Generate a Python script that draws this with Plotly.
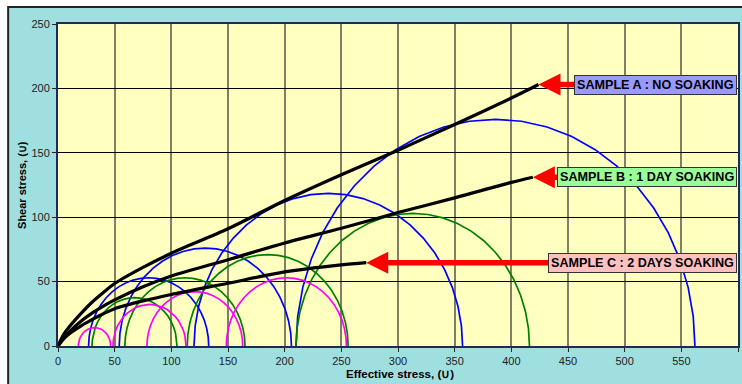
import numpy as np
import plotly.graph_objects as go

# Mohr circles: minor / major principal effective stresses of each test
sample_a_sigma3 = [27, 54, 120, 210]
sample_a_sigma1 = [133, 206, 357, 562]
sample_b_sigma3 = [30, 59, 114, 210]
sample_b_sigma1 = [105, 165, 256, 416]
sample_c_sigma3 = [18, 48.5, 78.5, 148.5]
sample_c_sigma1 = [46.5, 113, 163, 254.5]

# Failure envelopes (effective stress, shear stress)
env_a_x = [0, 5, 10, 20, 30, 40, 50, 75, 100, 150, 200, 250, 300, 350, 400, 424]
env_a_y = [0, 9, 15, 25, 34, 41.5, 48.5, 61, 72, 91, 113, 133, 152, 172, 192.5, 203]
env_b_x = [0, 5, 10, 20, 30, 40, 50, 75, 100, 150, 200, 250, 300, 350, 400, 419]
env_b_y = [0, 6.5, 11, 19, 25.5, 31, 35.8, 46, 54.4, 67, 80, 91.4, 103.6, 115, 127, 131]
env_c_x = [0, 5, 10, 20, 30, 40, 50, 75, 100, 150, 200, 250, 272]
env_c_y = [0, 5.5, 9.5, 15.5, 20.5, 25, 29, 35, 40, 48.7, 57.5, 63, 64.7]

labels = ["SAMPLE A : NO SOAKING", "SAMPLE B : 1 DAY SOAKING", "SAMPLE C : 2 DAYS SOAKING"]
label_fill = ["#9999ff", "#99ff99", "#ffc0c0"]

x_ticks = list(range(0, 601, 50))
y_ticks = list(range(0, 251, 50))

# polyline angles used to trace each semicircle
angles = np.radians(np.arange(0, 180.01, 7.5))


def semicircle(s3, s1):
    c = (s1 + s3) / 2.0
    r = (s1 - s3) / 2.0
    return c + r * np.cos(angles), r * np.sin(angles)


fig = go.Figure()

for s3_list, s1_list, colour in [
    (sample_a_sigma3, sample_a_sigma1, "#0000ff"),
    (sample_b_sigma3, sample_b_sigma1, "#008000"),
    (sample_c_sigma3, sample_c_sigma1, "#ff00ff"),
]:
    for s3, s1 in zip(s3_list, s1_list):
        cx, cy = semicircle(s3, s1)
        fig.add_trace(go.Scatter(x=cx, y=cy, mode="lines",
                                 line=dict(color=colour, width=1.7),
                                 hoverinfo="skip"))

envelopes = [(env_a_x, env_a_y), (env_b_x, env_b_y), (env_c_x, env_c_y)]
for ex, ey in envelopes:
    fig.add_trace(go.Scatter(x=ex, y=ey, mode="lines",
                             line=dict(color="black", width=3.2, shape="spline", smoothing=0.8),
                             hoverinfo="skip"))

font_family = "Liberation Sans, Arial, sans-serif"

annotations = []
for (ex, ey), text, fill in zip(envelopes, labels, label_fill):
    # red arrow running from the label box to the end of the envelope
    annotations.append(dict(
        x=ex[-1], y=ey[-1], xref="x", yref="y",
        ax=520, ay=ey[-1], axref="x", ayref="y",
        text="", showarrow=True, arrowhead=2, arrowsize=0.8,
        arrowwidth=5.5, arrowcolor="#ff0000",
    ))
    annotations.append(dict(
        x=599, y=ey[-1], xref="x", yref="y",
        xanchor="right", yanchor="middle",
        text=text, showarrow=False,
        bgcolor=fill, bordercolor="#333333", borderwidth=1, borderpad=2,
        font=dict(family=font_family, size=12.6, color="black", weight="bold"),
    ))

# axis titles
annotations.append(dict(
    x=0.503, y=-0.088, xref="paper", yref="paper",
    xanchor="center", yanchor="middle",
    text="Effective stress, (\u222a)", showarrow=False,
    font=dict(family=font_family, size=11.5, color="black", weight="bold"),
))
annotations.append(dict(
    x=-0.053, y=0.5, xref="paper", yref="paper",
    xanchor="center", yanchor="middle", textangle=-90,
    text="Shear stress, (\u222a)", showarrow=False,
    font=dict(family=font_family, size=11, color="black", weight="bold"),
))

# white page margin outside the chart frame, and the frame outline
shapes = [
    dict(type="rect", xref="paper", yref="paper", layer="below",
         x0=-0.2, x1=1.2, y0=1.0528, y1=1.3,
         fillcolor="white", line=dict(width=0)),
    dict(type="rect", xref="paper", yref="paper", layer="below",
         x0=-0.2, x1=-0.0733, y0=-0.3, y1=1.3,
         fillcolor="white", line=dict(width=0)),
    dict(type="rect", xref="paper", yref="paper", layer="below",
         x0=-0.0733, x1=1.05, y0=-0.3, y1=1.0528,
         fillcolor="rgba(0,0,0,0)", line=dict(color="#222222", width=2)),
]

fig.update_layout(
    width=742, height=384,
    margin=dict(l=58, r=2, t=24, b=38),
    paper_bgcolor="#a0dfe0",
    plot_bgcolor="#ffffc0",
    showlegend=False,
    annotations=annotations,
    shapes=shapes,
    font=dict(family=font_family, size=11, color="#222222"),
)

fig.update_xaxes(
    range=[0, 600], tickvals=x_ticks, ticktext=[str(v) for v in x_ticks],
    showgrid=True, gridcolor="#7f7f66", gridwidth=2,
    showline=True, mirror=True, linecolor="#1f2a55", linewidth=2,
    ticks="outside", ticklen=4, tickcolor="#222222",
    zeroline=False, fixedrange=True,
    tickfont=dict(size=11, color="#222222"),
)
fig.update_yaxes(
    range=[0, 250], tickvals=y_ticks, ticktext=[str(v) for v in y_ticks],
    showgrid=True, gridcolor="black", gridwidth=1,
    showline=True, mirror=True, linecolor="#1f2a55", linewidth=2,
    ticks="outside", ticklen=4, tickcolor="#222222",
    zeroline=False, fixedrange=True,
    tickfont=dict(size=11, color="#222222"),
)

fig.write_html("out.html")
